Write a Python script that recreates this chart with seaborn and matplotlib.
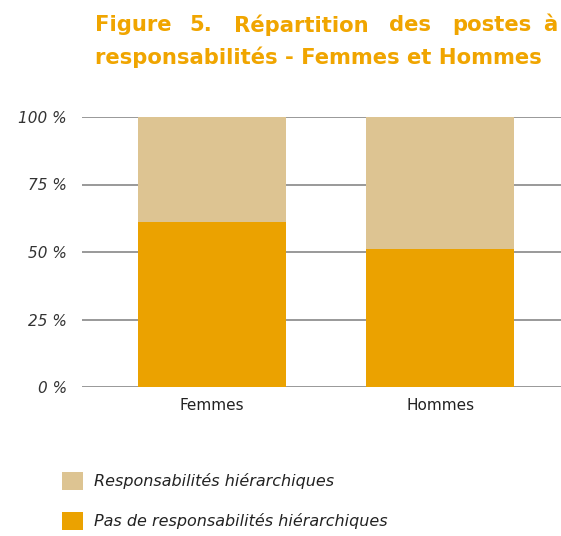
import matplotlib
matplotlib.use("Agg")
import matplotlib.pyplot as plt
import pandas as pd
import seaborn as sns
from matplotlib.patches import Patch

categories = ["Femmes", "Hommes"]
pas_resp = [61, 51]
resp = [39, 49]
y_ticks = [0, 25, 50, 75, 100]
y_tick_labels = ["0 %", "25 %", "50 %", "75 %", "100 %"]
legend_labels = ["Responsabilités hiérarchiques", "Pas de responsabilités hiérarchiques"]

TAN = "#DDC492"
ORANGE = "#EBA200"
TITLE_COLOR = "#F0A500"

df = pd.DataFrame({"sexe": categories, "pas": pas_resp, "resp": resp})
df["total"] = df["pas"] + df["resp"]

sns.set_style("white")
plt.rcParams["font.family"] = ["DejaVu Sans"]

fig = plt.figure(figsize=(5.61, 5.36), dpi=100)
ax = fig.add_axes([82 / 561, 1 - 387 / 536, 1 - 82 / 561, 270 / 536])

sns.barplot(data=df, x="sexe", y="total", color=TAN, width=0.646, saturation=1,
            linewidth=0, ax=ax, zorder=3)
sns.barplot(data=df, x="sexe", y="pas", color=ORANGE, width=0.646, saturation=1,
            linewidth=0, ax=ax, zorder=3)

ax.set_ylim(0, 100)
ax.set_xlim(-0.57, 1.53)
ax.set_yticks(y_ticks)
ax.set_yticklabels(y_tick_labels, fontsize=11, style="italic", color="#333333")
ax.tick_params(axis="y", length=0, pad=11)
ax.tick_params(axis="x", length=0, pad=8, labelsize=11, labelcolor="#222222")
ax.grid(axis="y", color="#999999", linewidth=1.4, zorder=0)
ax.set_axisbelow(True)
ax.set_xlabel("")
ax.set_ylabel("")
for s in ax.spines.values():
    s.set_visible(False)

# titre justifié sur la première ligne
line1 = ["Figure", "5.", "Répartition", "des", "postes", "à"]
x_pos = [95, 189, 234, 389, 452, 543]
for w, xp in zip(line1, x_pos):
    fig.text(xp / 561, 1 - 25 / 536, w, fontsize=15.2, fontweight="bold", color=TITLE_COLOR,
             ha="left", va="center")
fig.text(95 / 561, 1 - 57 / 536, "responsabilités - Femmes et Hommes", fontsize=15.2,
         fontweight="bold", color=TITLE_COLOR, ha="left", va="center")

handles = [Patch(facecolor=TAN, edgecolor="none"), Patch(facecolor=ORANGE, edgecolor="none")]
leg = fig.legend(handles, legend_labels, loc="upper left", bbox_to_anchor=(48 / 561, 1 - 458 / 536),
                 frameon=False, handlelength=1.3, handleheight=1.3, labelspacing=1.4,
                 handletextpad=0.7, prop={"size": 11.5, "style": "italic"})
for t in leg.get_texts():
    t.set_color("#222222")

fig.savefig("out.png", dpi=100)
